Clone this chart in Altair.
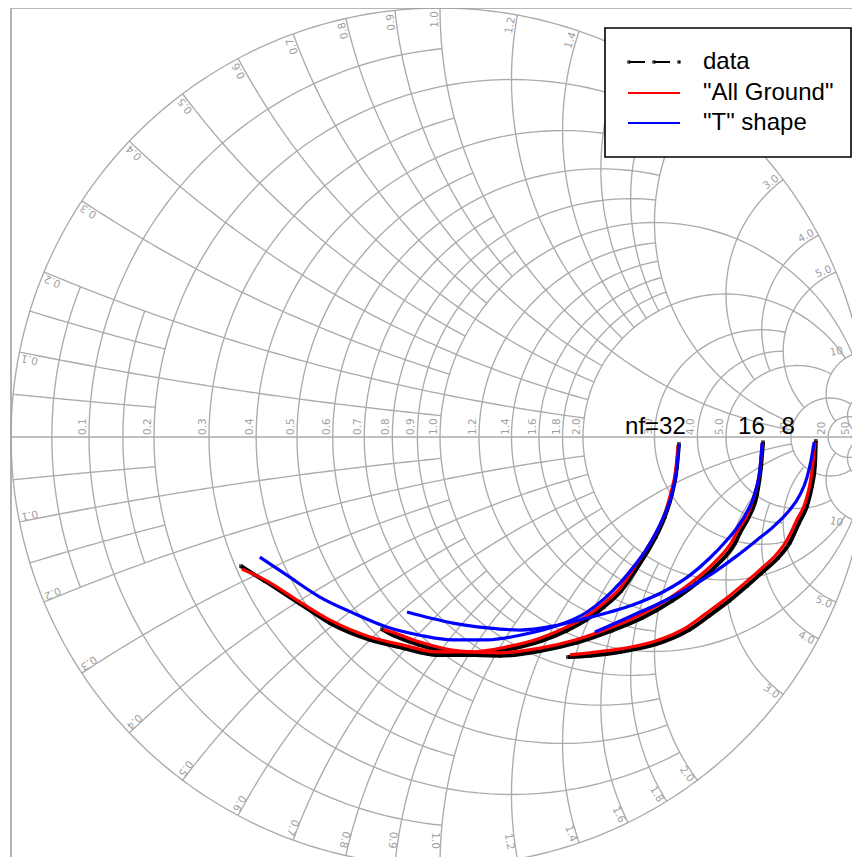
import altair as alt
import numpy as np
import pandas as pd

alt.data_transformers.disable_max_rows()

# ---------------- Smith chart grid values ----------------
R_VALUES = [0.05, 0.1, 0.15, 0.2, 0.3, 0.4, 0.5, 0.6, 0.7, 0.8, 0.9, 1.0,
            1.2, 1.4, 1.6, 1.8, 2.0, 3.0, 4.0, 5.0, 10, 20, 50]
R_REACH = [0.2, 1, 0.2, 2, 1, 2, 1, 2, 1, 2, 1, 10,
           2, 2, 2, 2, 10, 5, 5, 10, 20, 50, 1e4]
X_VALUES = R_VALUES
X_REACH = R_REACH

LABEL_VALUES = [0.1, 0.2, 0.3, 0.4, 0.5, 0.6, 0.7, 0.8, 0.9, 1.0,
                1.2, 1.4, 1.6, 1.8, 2.0, 3.0, 4.0, 5.0, 10, 20, 50]
LABEL_TEXT = ["0.1", "0.2", "0.3", "0.4", "0.5", "0.6", "0.7", "0.8", "0.9", "1.0",
              "1.2", "1.4", "1.6", "1.8", "2.0", "3.0", "4.0", "5.0", "10", "20", "50"]
CIRCLE_LABEL_MAX = 10

# ---------------- reflection coefficients (Re, Im) ----------------
NF32_DATA_RE = [0.557, 0.552, 0.541, 0.524, 0.503, 0.483, 0.455, 0.422, 0.382, 0.340, 0.294, 0.235, 0.152, 0.070, -0.007, -0.086, -0.163, -0.256, -0.326, -0.408, -0.464]
NF32_DATA_IM = [-0.016, -0.072, -0.131, -0.186, -0.233, -0.268, -0.312, -0.359, -0.396, -0.427, -0.452, -0.476, -0.497, -0.508, -0.508, -0.492, -0.473, -0.434, -0.389, -0.336, -0.301]
NF32_AG_RE = [0.555, 0.550, 0.538, 0.522, 0.501, 0.480, 0.452, 0.420, 0.380, 0.338, 0.291, 0.233, 0.152, 0.070, -0.007, -0.086, -0.163, -0.256, -0.326, -0.408, -0.462]
NF32_AG_IM = [-0.019, -0.072, -0.131, -0.184, -0.228, -0.263, -0.305, -0.352, -0.389, -0.420, -0.445, -0.469, -0.490, -0.501, -0.501, -0.485, -0.466, -0.427, -0.385, -0.333, -0.308]
NF32_T_RE = [0.557, 0.552, 0.541, 0.522, 0.501, 0.483, 0.455, 0.420, 0.385, 0.343, 0.263, 0.186, 0.110, 0.030, -0.047, -0.124, -0.203, -0.280, -0.357, -0.420]
NF32_T_IM = [-0.016, -0.072, -0.131, -0.184, -0.228, -0.259, -0.298, -0.340, -0.375, -0.408, -0.443, -0.462, -0.473, -0.473, -0.462, -0.443, -0.410, -0.373, -0.322, -0.280]

NF16_DATA_RE = [0.753, 0.748, 0.739, 0.720, 0.699, 0.688, 0.646, 0.599, 0.541, 0.471, 0.399, 0.317, 0.233, 0.140, 0.047, -0.047, -0.105, -0.135]
NF16_DATA_IM = [-0.012, -0.072, -0.133, -0.186, -0.224, -0.247, -0.298, -0.340, -0.382, -0.422, -0.452, -0.480, -0.499, -0.510, -0.506, -0.485, -0.464, -0.448]
NF16_AG_RE = [0.751, 0.746, 0.734, 0.716, 0.695, 0.683, 0.641, 0.594, 0.536, 0.466, 0.396, 0.315, 0.233, 0.140, 0.047, -0.047, -0.105, -0.133]
NF16_AG_IM = [-0.014, -0.072, -0.131, -0.182, -0.217, -0.240, -0.291, -0.333, -0.375, -0.415, -0.445, -0.473, -0.492, -0.503, -0.499, -0.478, -0.457, -0.448]
NF16_T_RE = [0.751, 0.746, 0.734, 0.713, 0.692, 0.669, 0.629, 0.583, 0.524, 0.466, 0.420, 0.343, 0.263, 0.186, 0.110, 0.030, -0.023, -0.077]
NF16_T_IM = [-0.014, -0.072, -0.131, -0.179, -0.212, -0.240, -0.282, -0.322, -0.359, -0.385, -0.401, -0.422, -0.441, -0.450, -0.445, -0.434, -0.422, -0.408]

NF8_DATA_RE = [0.876, 0.874, 0.867, 0.856, 0.837, 0.815, 0.788, 0.755, 0.716, 0.674, 0.627, 0.580, 0.504, 0.420, 0.350, 0.298]
NF8_DATA_IM = [-0.009, -0.065, -0.114, -0.159, -0.200, -0.247, -0.282, -0.312, -0.347, -0.382, -0.417, -0.450, -0.483, -0.501, -0.510, -0.513]
NF8_AG_RE = [0.874, 0.869, 0.862, 0.851, 0.832, 0.809, 0.783, 0.751, 0.711, 0.669, 0.622, 0.576, 0.501, 0.420, 0.350, 0.303]
NF8_AG_IM = [-0.012, -0.065, -0.112, -0.154, -0.193, -0.240, -0.275, -0.305, -0.340, -0.375, -0.410, -0.443, -0.476, -0.494, -0.503, -0.508]
NF8_T_RE = [0.872, 0.865, 0.855, 0.839, 0.811, 0.776, 0.739, 0.688, 0.629, 0.571, 0.513, 0.466, 0.420, 0.361]
NF8_T_IM = [-0.012, -0.054, -0.096, -0.135, -0.175, -0.210, -0.240, -0.280, -0.322, -0.357, -0.387, -0.408, -0.429, -0.455]

NF_TEXT = ["nf=32", "16", "8"]
NF_TEXT_RE = [0.573, 0.757, 0.827]
NF_TEXT_IM = [0.007, 0.007, 0.007]

LEGEND_LABELS = ["data", "\"All Ground\"", "\"T\" shape"]
LEGEND_COLORS = ["black", "red", "blue"]

# ---------------- build grid geometry ----------------
def smith(z):
    return (z - 1) / (z + 1)

rows = []
seg_id = [0]


def add(g):
    for i, v in enumerate(g):
        rows.append((seg_id[0], i, round(float(v.real), 4), round(float(v.imag), 4)))
    seg_id[0] += 1


t = np.linspace(0, 2 * np.pi, 361)
add(np.exp(1j * t))
add(np.array([-1 + 0j, 1 + 0j]))
for r, lim in zip(R_VALUES, R_REACH):
    v = np.linspace(-np.arctan(lim / (r + 1)), np.arctan(lim / (r + 1)), 121)
    add(smith(r + 1j * (r + 1) * np.tan(v)))
for x, lim in zip(X_VALUES, X_REACH):
    v = np.linspace(np.arctan(x), np.arctan(x / (lim + 1)), 81)
    rr = np.maximum(x / np.tan(v) - 1, 0)
    for s in (1, -1):
        add(smith(rr + 1j * s * x))

grid = pd.DataFrame(rows, columns=["seg", "ord", "gr", "gi"])

X_MAX = 0.96037
Y_MIN = -0.97902
XS = alt.Scale(domain=[-1.00699, X_MAX], nice=False, zero=False)
YS = alt.Scale(domain=[Y_MIN, 1.0], nice=False, zero=False)
GRID_COLOR = "#ababab"
LABEL_COLOR = "#a0a0a0"

gx = alt.X("gr:Q", scale=XS, axis=None)
gy = alt.Y("gi:Q", scale=YS, axis=None)

grid_layer = alt.Chart(grid).mark_line(color=GRID_COLOR, strokeWidth=1.35, clip=True).encode(
    x=gx, y=gy, detail="seg:N", order="ord:Q")

frame = pd.DataFrame({"gr": [-1, -1, 1], "gi": [-1, 1, 1], "ord": [0, 1, 2]})
frame_layer = alt.Chart(frame).mark_line(color="#a0a0a0", strokeWidth=1.6, clip=True).encode(
    x=gx, y=gy, order="ord:Q")

# real-axis labels
ax_lab = pd.DataFrame({
    "gr": [(r - 1) / (r + 1) for r in LABEL_VALUES],
    "gi": [0.0] * len(LABEL_VALUES),
    "txt": LABEL_TEXT,
})
ax_layer = alt.Chart(ax_lab).mark_text(
    angle=270, align="left", baseline="bottom", dx=2, dy=-1,
    font="DejaVu Sans", fontSize=10.5, color=LABEL_COLOR, clip=True
).encode(x=gx, y=gy, text="txt:N")

# circumference labels (labels at the visible edges pulled slightly inside)
up, lo = [], []
for x, txt in zip(LABEL_VALUES, LABEL_TEXT):
    if x > CIRCLE_LABEL_MAX:
        continue
    th = np.pi - 2 * np.arctan(x)
    c, s = np.cos(th), np.sin(th)
    rho_u = 1.0
    if c > X_MAX - 0.012:
        rho_u = (X_MAX - 0.012) / c
    up.append({"gr": rho_u * c, "gi": rho_u * s, "txt": txt, "ang": (-np.degrees(th)) % 360})
    rho_l = rho_u
    if -s * rho_l < Y_MIN + 0.012:
        rho_l = (-(Y_MIN + 0.012)) / s
    lo.append({"gr": rho_l * c, "gi": -rho_l * s, "txt": txt, "ang": np.degrees(th) % 360})
circ_up = alt.Chart(pd.DataFrame(up)).mark_text(
    align="right", baseline="bottom", dx=-3, font="DejaVu Sans", fontSize=10.5,
    color=LABEL_COLOR, clip=True
).encode(x=gx, y=gy, text="txt:N", angle=alt.Angle("ang:Q", scale=None))
circ_lo = alt.Chart(pd.DataFrame(lo)).mark_text(
    align="right", baseline="top", dx=-3, font="DejaVu Sans", fontSize=10.5,
    color=LABEL_COLOR, clip=True
).encode(x=gx, y=gy, text="txt:N", angle=alt.Angle("ang:Q", scale=None))

# curves
def curve_df(re, im, name):
    return pd.DataFrame({"gr": re, "gi": im, "ord": range(len(re)), "curve": name})

data_df = pd.concat([curve_df(NF32_DATA_RE, NF32_DATA_IM, "32"),
                     curve_df(NF16_DATA_RE, NF16_DATA_IM, "16"),
                     curve_df(NF8_DATA_RE, NF8_DATA_IM, "8")])
ag_df = pd.concat([curve_df(NF32_AG_RE, NF32_AG_IM, "32"),
                   curve_df(NF16_AG_RE, NF16_AG_IM, "16"),
                   curve_df(NF8_AG_RE, NF8_AG_IM, "8")])
t_df = pd.concat([curve_df(NF32_T_RE, NF32_T_IM, "32"),
                  curve_df(NF16_T_RE, NF16_T_IM, "16"),
                  curve_df(NF8_T_RE, NF8_T_IM, "8")])

data_layer = alt.Chart(data_df).mark_line(color="black", strokeWidth=4, interpolate="monotone").encode(
    x=gx, y=gy, detail="curve:N", order="ord:Q")
data_pts = alt.Chart(data_df).mark_point(color="black", filled=True, size=14, shape="square").encode(
    x=gx, y=gy)
ag_layer = alt.Chart(ag_df).mark_line(color="red", strokeWidth=3.2, interpolate="monotone").encode(
    x=gx, y=gy, detail="curve:N", order="ord:Q")
t_layer = alt.Chart(t_df).mark_line(color="blue", strokeWidth=3.2, interpolate="monotone").encode(
    x=gx, y=gy, detail="curve:N", order="ord:Q")

nf_layer = alt.Chart(pd.DataFrame({"gr": NF_TEXT_RE, "gi": NF_TEXT_IM, "txt": NF_TEXT})).mark_text(
    align="right", baseline="alphabetic", font="Liberation Sans", fontSize=24, color="black"
).encode(x=gx, y=gy, text="txt:N")

# legend box (decoration)
one = alt.Data(values=[{}])
leg = [alt.Chart(one).mark_rect(fill="white", stroke="black", strokeWidth=1.6).encode(
    x=alt.value(597), x2=alt.value(843), y=alt.value(20), y2=alt.value(149))]
ys_leg = [54, 85, 115]
leg.append(alt.Chart(one).mark_rule(color="black", strokeWidth=2, strokeDash=[16, 9]).encode(
    x=alt.value(621), x2=alt.value(672), y=alt.value(ys_leg[0])))
for xx in (621, 646, 671):
    leg.append(alt.Chart(one).mark_point(color="black", filled=True, size=18).encode(
        x=alt.value(xx), y=alt.value(ys_leg[0])))
for i in (1, 2):
    leg.append(alt.Chart(one).mark_rule(color=LEGEND_COLORS[i], strokeWidth=2).encode(
        x=alt.value(620), x2=alt.value(672), y=alt.value(ys_leg[i])))
for i in range(3):
    leg.append(alt.Chart(one).mark_text(
        align="left", baseline="middle", font="Liberation Sans", fontSize=24, color="black"
    ).encode(x=alt.value(695), y=alt.value(ys_leg[i]), text=alt.value(LEGEND_LABELS[i])))

chart = alt.layer(
    grid_layer, frame_layer, ax_layer, circ_up, circ_lo,
    data_layer, data_pts, ag_layer, t_layer, nf_layer, *leg
).properties(
    width=844, height=849, padding=0,
    autosize=alt.AutoSizeParams(type="none")
).configure_view(stroke=None)

chart.save("out.html", embed_options={"renderer": "svg", "actions": False})
